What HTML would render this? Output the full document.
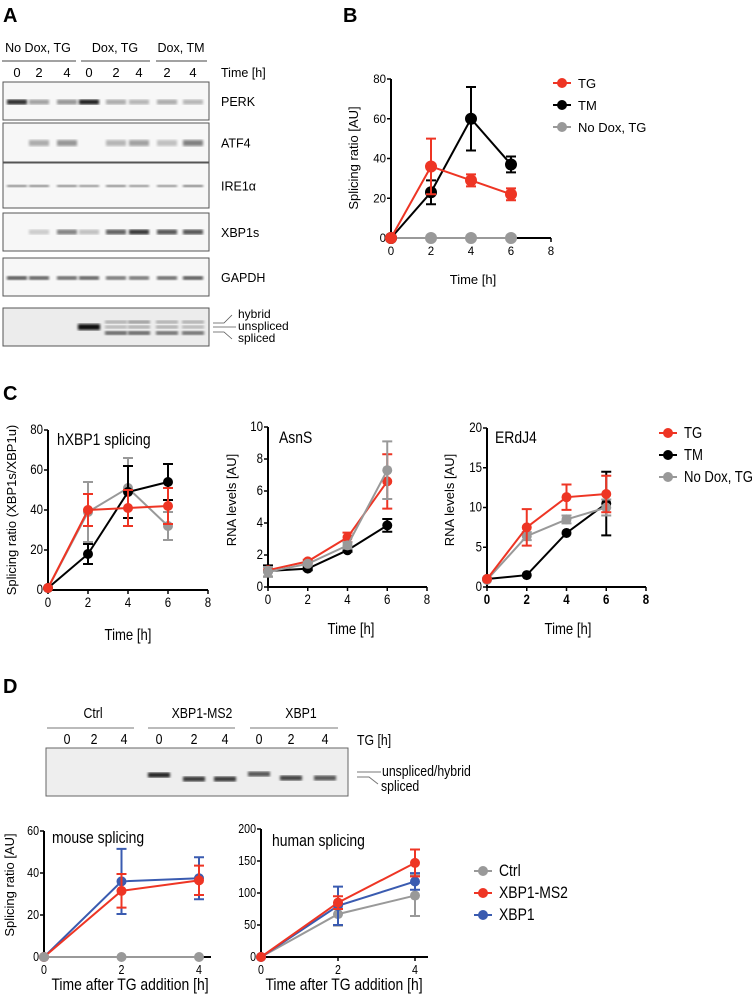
<!DOCTYPE html>
<html><head><meta charset="utf-8">
<style>
body{margin:0;background:#fff;}
svg{display:block;font-family:"Liberation Sans",Arial,sans-serif;}
</style></head>
<body>
<svg id="fig" width="756" height="997" viewBox="0 0 756 997" xmlns="http://www.w3.org/2000/svg">
<defs>
<filter id="blur1"><feGaussianBlur stdDeviation="1.2"/></filter>
</defs>
<text x="3" y="22" font-size="20" font-weight="bold">A</text>
<text x="343" y="22" font-size="20" font-weight="bold">B</text>
<text x="3" y="400" font-size="20" font-weight="bold">C</text>
<text x="3" y="693" font-size="20" font-weight="bold">D</text>

<g id="panelA">
<text x="38" y="52" font-size="12.5" text-anchor="middle">No Dox, TG</text>
<text x="115" y="52" font-size="12.5" text-anchor="middle">Dox, TG</text>
<text x="181" y="52" font-size="12.5" text-anchor="middle">Dox, TM</text>
<line x1="2" y1="61" x2="76" y2="61" stroke="#444" stroke-width="1"/>
<line x1="81" y1="61" x2="150" y2="61" stroke="#444" stroke-width="1"/>
<line x1="156" y1="61" x2="207" y2="61" stroke="#444" stroke-width="1"/>
<text x="221" y="77" font-size="12.5">Time [h]</text>
</g>

<g id="panelB"></g>
<g id="panelC"></g>
<g id="panelD"></g>
</svg>
<script>
const NS='http://www.w3.org/2000/svg';
function mk(tag,attrs,parent,text){const e=document.createElementNS(NS,tag);
  const narrow=attrs.class==='n';
  for(const k in attrs){ if(k==='class')continue; if(narrow&&(k==='x'||k==='y'))continue; e.setAttribute(k,attrs[k]);}
  if(narrow){e.setAttribute('transform',`translate(${attrs.x},${attrs.y}) scale(0.82,1)`);}
  if(text!==undefined)e.textContent=text;if(parent)parent.appendChild(e);return e;}

// ---------- Panel A ----------
const laneTimes=['0','2','4','0','2','4','2','4'];
const laneX=[17,39,67,89,116,139,167,193];
const blotNames=['PERK','ATF4','IRE1α','XBP1s','GAPDH'];
const blotBoxes=[[82,120],[123,162],[163,208],[213,251],[258,296]];
const perkI=[0.9,0.35,0.4,0.95,0.3,0.25,0.3,0.25];
const atf4I=[0,0.3,0.4,0,0.25,0.35,0.2,0.5];
const ire1I=[0.5,0.5,0.5,0.45,0.5,0.45,0.45,0.55];
const xbp1sI=[0,0.15,0.5,0.2,0.65,0.85,0.7,0.7];
const gapdhI=[0.75,0.7,0.65,0.7,0.6,0.6,0.65,0.75];
const blotInts=[perkI,atf4I,ire1I,xbp1sI,gapdhI];
const blotBandY=[102,143,186,232,278];
const blotBandH=[5,6,2.5,5,3.5];
const A=document.getElementById('panelA');
laneTimes.forEach((t,i)=>{const e=mk('text',{x:laneX[i],y:77,'font-size':13,'text-anchor':'middle'},A,t);

});
blotNames.forEach((nm,b)=>{
  const r=mk('rect',{x:3,y:blotBoxes[b][0],width:206,height:blotBoxes[b][1]-blotBoxes[b][0],fill:'#f7f7f7',stroke:'#555','stroke-width':1},A);
  
  
  blotInts[b].forEach((v,i)=>{ if(v<=0)return;
    const g=Math.round(235-v*215);
    const band=mk('rect',{x:laneX[i]-10,y:blotBandY[b]-blotBandH[b]/2,width:20,height:blotBandH[b],fill:`rgb(${g},${g},${g})`,filter:'url(#blur1)'},A);
    
    
  });
  const t=mk('text',{x:221,y:(blotBoxes[b][0]+blotBoxes[b][1])/2+5,'font-size':12.5},A,nm);
  
  
});
const gel=mk('rect',{x:3,y:308,width:206,height:38,fill:'#ececec',stroke:'#555','stroke-width':1},A);


const gelUpper=[0,0,0,0,0.3,0.4,0.3,0.3];
const gelMid=[0,0,0,1,0.25,0.3,0.3,0.25];
const gelLow=[0,0,0,0,0.6,0.6,0.55,0.55];
laneX.forEach((x,i)=>{
  [[gelUpper,322,3],[gelMid,327,gelMid[i]>0.9?6:3],[gelLow,333,4]].forEach(([arr,y,h])=>{
    const v=arr[i]; if(v<=0)return; const g=Math.round(230-v*215);
    const band=mk('rect',{x:x-11,y:y-h/2,width:22,height:h,fill:`rgb(${g},${g},${g})`,filter:'url(#blur1)'},A);
    
    
  });
});
[['hybrid',318],['unspliced',330],['spliced',342]].forEach(([s,y])=>{const t=mk('text',{x:238,y:y,'font-size':12},A,s);

});
mk('path',{d:'M213 323 L224 323 L232 315 M213 327 L236 327 M213 332 L224 332 L232 339',stroke:'#555',fill:'none','stroke-width':0.8},A);

// ---------- Generic chart ----------
function chart(g,o){
  const sx=v=>o.px0+(v-o.xmin)/(o.xmax-o.xmin)*(o.px1-o.px0);
  const sy=v=>o.py0-(v)/(o.ymax)*(o.py0-o.py1);
  const cls=o.narrow?'n':'';
  const ax=mk('path',{d:`M${o.px0} ${o.py1} L${o.px0} ${o.py0} L${o.axEnd||o.px1} ${o.py0}`,stroke:'#000','stroke-width':2,fill:'none'},g);
  
  
  o.yticks.forEach((t,i)=>{const y=sy(t);
    mk('line',{x1:o.px0-4,y1:y,x2:o.px0,y2:y,stroke:'#000','stroke-width':1.5},g);
    const e=mk('text',{x:o.px0-5,y:y+4,'font-size':o.fs,'text-anchor':'end',class:cls},g,o.ylabels[i]);
    
    });
  o.xticks.forEach((t,i)=>{const x=sx(t);
    mk('line',{x1:x,y1:o.py0,x2:x,y2:o.py0+4,stroke:'#000','stroke-width':1.5},g);
    const e=mk('text',{x:x,y:o.py0+17,'font-size':o.fs,'text-anchor':'middle',class:cls,'font-weight':o.boldTicks?'bold':'normal'},g,o.xlabels[i]);
    
    });
  if(o.title){const e=mk('text',{x:o.title[1],y:o.title[2],'font-size':o.tfs||13,class:cls},g,o.title[0]);
    
    }
  const xl=mk('text',{x:o.xl[0],y:o.xl[1],'font-size':o.xlfs||12,'text-anchor':'middle',class:cls},g,o.xl[2]);
  
  
  if(o.yl){const yl=mk('text',{'font-size':o.ylfs||12,'text-anchor':'middle',transform:`translate(${o.yl[0]},${o.yl[1]}) rotate(-90)`},g,o.yl[2]);
    
    }
  o.series.forEach(s=>{
    const sg=mk('g',{},g);
    
    
    const pts=s.vals.map((v,i)=>[sx(o.xs[i]),sy(v)]);
    mk('polyline',{points:pts.map(p=>p.join(',')).join(' '),stroke:s.color,'stroke-width':2,fill:'none'},sg);
    s.vals.forEach((v,i)=>{const e=s.err[i]; if(!e)return; const x=sx(o.xs[i]);
      const y1=sy(v+e),y2=sy(Math.max(0,v-e)),c=o.cap||5;
      mk('path',{d:`M${x} ${y1} L${x} ${y2} M${x-c} ${y1} L${x+c} ${y1} M${x-c} ${y2} L${x+c} ${y2}`,stroke:s.color,'stroke-width':2,fill:'none'},sg);});
    s.vals.forEach((v,i)=>{const c=mk('circle',{cx:sx(o.xs[i]),cy:sy(v),r:o.r||5,fill:s.color},sg);
      
      });
  });
}
function legend(g,x,y0,dy,items,fs,narrow){
  items.forEach((it,i)=>{const y=y0+i*dy;
    const lg=mk('g',{},g);
    
    
    mk('line',{x1:x,y1:y,x2:x+18,y2:y,stroke:it[1],'stroke-width':2},lg);
    mk('circle',{cx:x+9,cy:y,r:5,fill:it[1]},lg);
    mk('text',{x:x+25,y:y+5,'font-size':fs,class:narrow?'n':''},lg,it[0]);});
}
const RED='#ee3524',BLK='#000',GRY='#999',BLU='#3a5bb0';

// ---------- Panel B ----------
const bTimes=[0,2,4,6];
const bTG=[0,36,29,22], bTGerr=[0,14,3,3];
const bTM=[0,23,60,37], bTMerr=[0,6,16,4];
const bND=[0,0,0,0], bNDerr=[0,0,0,0];
const B=document.getElementById('panelB');
chart(B,{px0:391,px1:551,xmin:0,xmax:8,py0:238,py1:79,ymax:80,xs:bTimes,
  yticks:[0,20,40,60,80],ylabels:['0','20','40','60','80'],xticks:[0,2,4,6,8],xlabels:['0','2','4','6','8'],fs:11.5,r:6,cap:5,
  xl:[473,284,'Time [h]'],xlfs:13,yl:[358,158,'Splicing ratio [AU]'],ylfs:13,
  series:[{name:'No Dox TG',color:GRY,vals:bND,err:bNDerr},{name:'TM',color:BLK,vals:bTM,err:bTMerr},{name:'TG',color:RED,vals:bTG,err:bTGerr}]});
legend(B,553,83,22,[['TG',RED],['TM',BLK],['No Dox, TG',GRY]],13,false);

// ---------- Panel C ----------
const C=document.getElementById('panelC');
const cTimes=[0,2,4,6];
const c1TG=[1,40,41,42], c1TGerr=[0,8,9,9];
const c1TM=[1,18,49,54], c1TMerr=[0,5,13,9];
const c1ND=[1,39,51,32], c1NDerr=[0,15,15,7];
const c2TG=[1.05,1.6,3.1,6.6], c2TGerr=[0,0.1,0.3,1.7];
const c2TM=[1,1.15,2.3,3.85], c2TMerr=[0.35,0.1,0.1,0.4];
const c2ND=[0.95,1.45,2.6,7.3], c2NDerr=[0.3,0.1,0.2,1.8];
const c3TG=[1,7.5,11.3,11.7], c3TGerr=[0,2.3,1.6,2.3];
const c3TM=[1,1.5,6.8,10.5], c3TMerr=[0,0,0,4];
const c3ND=[0.9,6.4,8.5,10], c3NDerr=[0,0.5,0.5,1];
const cX=[0,2,4,6,8].map(String);
chart(C,{px0:48,px1:208,xmin:0,xmax:8,py0:590,py1:430,ymax:80,xs:cTimes,narrow:true,
  yticks:[0,20,40,60,80],ylabels:['0','20','40','60','80'],xticks:[0,2,4,6,8],xlabels:cX,fs:14,r:5,cap:5,
  title:['hXBP1 splicing',57,445],tfs:17,xl:[128,640,'Time [h]'],xlfs:16,yl:[16,510,'Splicing ratio (XBP1s/XBP1u)'],ylfs:13,
  series:[{name:'No Dox TG',color:GRY,vals:c1ND,err:c1NDerr},{name:'TM',color:BLK,vals:c1TM,err:c1TMerr},{name:'TG',color:RED,vals:c1TG,err:c1TGerr}]});
chart(C,{px0:268,px1:427,xmin:0,xmax:8,py0:587,py1:427,ymax:10,xs:cTimes,narrow:true,
  yticks:[0,2,4,6,8,10],ylabels:['0','2','4','6','8','10'],xticks:[0,2,4,6,8],xlabels:cX,fs:14,r:5,cap:5,
  title:['AsnS',279,443],tfs:17,xl:[351,634,'Time [h]'],xlfs:16,yl:[236,500,'RNA levels [AU]'],ylfs:13,
  series:[{name:'TM',color:BLK,vals:c2TM,err:c2TMerr},{name:'TG',color:RED,vals:c2TG,err:c2TGerr},{name:'No Dox TG',color:GRY,vals:c2ND,err:c2NDerr}]});
chart(C,{px0:487,px1:646,xmin:0,xmax:8,py0:587,py1:428,ymax:20,xs:cTimes,narrow:true,boldTicks:true,
  yticks:[0,5,10,15,20],ylabels:['0','5','10','15','20'],xticks:[0,2,4,6,8],xlabels:cX,fs:14,r:5,cap:5,
  title:['ERdJ4',495,443],tfs:17,xl:[568,634,'Time [h]'],xlfs:16,yl:[454,500,'RNA levels [AU]'],ylfs:13,
  series:[{name:'TM',color:BLK,vals:c3TM,err:c3TMerr},{name:'No Dox TG',color:GRY,vals:c3ND,err:c3NDerr},{name:'TG',color:RED,vals:c3TG,err:c3TGerr}]});
legend(C,659,433,22,[['TG',RED],['TM',BLK],['No Dox, TG',GRY]],16,true);

// ---------- Panel D ----------
const D=document.getElementById('panelD');
const dGroups=['Ctrl','XBP1-MS2','XBP1'];
const dGroupX=[93,202,301];
const dLineSpan=[[47,134],[148,235],[250,338]];
const dLaneT=['0','2','4','0','2','4','0','2','4'];
const dLaneX=[67,94,124,159,194,225,259,291,325];
dGroups.forEach((g,i)=>{const t=mk('text',{x:dGroupX[i],y:718,'font-size':15,'text-anchor':'middle',class:'n'},D,g);
  
  
  mk('line',{x1:dLineSpan[i][0],y1:728,x2:dLineSpan[i][1],y2:728,stroke:'#777','stroke-width':1},D);});
dLaneT.forEach((t,i)=>{const e=mk('text',{x:dLaneX[i],y:744,'font-size':15,'text-anchor':'middle',class:'n'},D,t);
  
  });
const tgh=mk('text',{x:357,y:745,'font-size':15,class:'n'},D,'TG [h]');


const gel2=mk('rect',{x:46,y:748,width:302,height:48,fill:'#eeeeee',stroke:'#666','stroke-width':1},D);


const dBandY=[0,0,0,775,779,779,774,778,778];
const dBandV=[0,0,0,0.95,0.85,0.85,0.7,0.8,0.7];
dLaneX.forEach((x,i)=>{const v=dBandV[i]; if(!v)return; const gg=Math.round(225-v*200);
  const b=mk('rect',{x:x-11,y:dBandY[i]-2.5,width:22,height:5,fill:`rgb(${gg},${gg},${gg})`,filter:'url(#blur1)'},D);
  
  });
mk('path',{d:'M357 772 L381 772 M357 777 L369 777 L378 784',stroke:'#777',fill:'none','stroke-width':1},D);
[['unspliced/hybrid',382,776],['spliced',381,791]].forEach(([s,x,y])=>{const t=mk('text',{x:x,y:y,'font-size':15,class:'n'},D,s);
  
  });

const dTimes=[0,2,4];
const mCtrl=[0,0,0], mCtrlErr=[0,0,0];
const mMS2=[0,31.5,36.5], mMS2Err=[0,8,7];
const mXBP=[0,36,37.5], mXBPErr=[0,15.5,10];
const hCtrl=[0,67,96], hCtrlErr=[0,18,32];
const hMS2=[0,85,147], hMS2Err=[0,10,21];
const hXBP=[0,80,118], hXBPErr=[0,30,13];
chart(D,{px0:44,px1:199,axEnd:211,xmin:0,xmax:4,py0:957,py1:831,ymax:60,xs:dTimes,narrow:true,
  yticks:[0,20,40,60],ylabels:['0','20','40','60'],xticks:[0,2,4],xlabels:['0','2','4'],fs:13,r:5,cap:5,
  title:['mouse splicing',52,843],tfs:17,xl:[130,990,'Time after TG addition [h]'],xlfs:17,yl:[14,885,'Splicing ratio [AU]'],ylfs:13,
  series:[{name:'XBP1',color:BLU,vals:mXBP,err:mXBPErr},{name:'XBP1-MS2',color:RED,vals:mMS2,err:mMS2Err},{name:'Ctrl',color:GRY,vals:mCtrl,err:mCtrlErr}]});
chart(D,{px0:261,px1:415,axEnd:428,xmin:0,xmax:4,py0:957,py1:829,ymax:200,xs:dTimes,narrow:true,
  yticks:[0,50,100,150,200],ylabels:['0','50','100','150','200'],xticks:[0,2,4],xlabels:['0','2','4'],fs:13,r:5,cap:5,
  title:['human splicing',272,846],tfs:17,xl:[344,990,'Time after TG addition [h]'],xlfs:17,
  series:[{name:'Ctrl',color:GRY,vals:hCtrl,err:hCtrlErr},{name:'XBP1',color:BLU,vals:hXBP,err:hXBPErr},{name:'XBP1-MS2',color:RED,vals:hMS2,err:hMS2Err}]});
legend(D,474,871,22,[['Ctrl',GRY],['XBP1-MS2',RED],['XBP1',BLU]],17,true);
</script>
</body></html>
